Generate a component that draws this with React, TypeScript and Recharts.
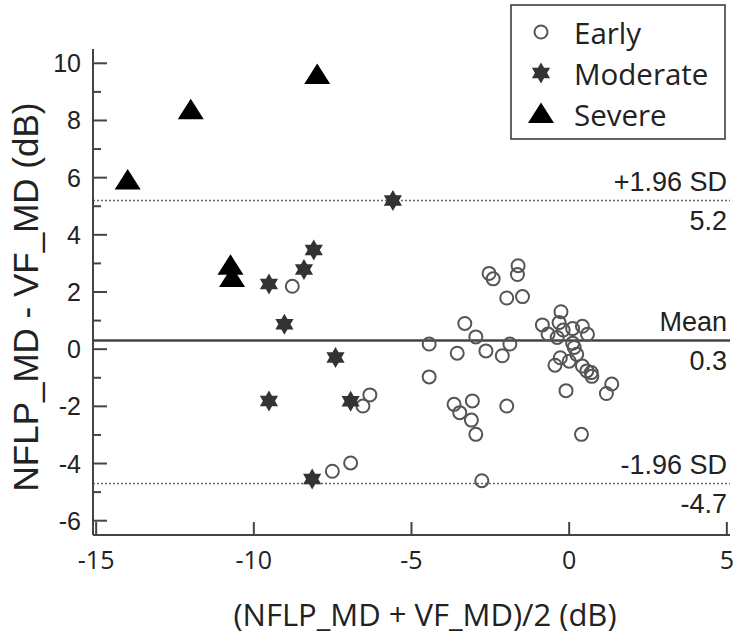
import React from 'react';
import {
  Legend,
  ReferenceLine,
  Scatter,
  ScatterChart,
  XAxis,
  YAxis,
} from 'recharts';

// Bland-Altman: x = mean of the two MDs, y = difference
const earlyMean = [
  -8.78, -6.32, -6.54, -6.93, -7.51, -4.44, -4.44, -3.31, -2.96, -3.55, -2.64, -1.88, -2.12,
  -2.54, -2.41, -1.62, -1.64, -1.98, -1.48, -3.65, -3.47, -3.07, -3.1, -2.96, -1.98, -2.77,
  -0.85, -0.67, -0.26, -0.32, -0.19, 0.11, 0.42, 0.58, -0.38, 0.11, 0.16, 0.24, -0.28, -0.45,
  0.0, 0.42, 0.56, 0.7, 0.72, -0.1, 1.35, 1.18, 0.39,
];
const earlyDiff = [
  2.2, -1.6, -1.99, -3.98, -4.27, 0.18, -0.97, 0.9, 0.43, -0.14, -0.06, 0.18, -0.23,
  2.65, 2.46, 2.92, 2.61, 1.79, 1.84, -1.93, -2.22, -1.81, -2.48, -2.98, -1.99, -4.6,
  0.85, 0.53, 1.31, 0.93, 0.67, 0.72, 0.8, 0.52, 0.41, 0.21, 0.06, -0.18, -0.3, -0.56,
  -0.42, -0.59, -0.76, -0.82, -0.95, -1.45, -1.22, -1.55, -2.98,
];
const moderateMean = [-9.52, -8.41, -8.1, -9.03, -7.41, -9.52, -6.93, -8.15, -5.59];
const moderateDiff = [2.28, 2.79, 3.47, 0.87, -0.29, -1.81, -1.82, -4.54, 5.2];
const severeMean = [-14.0, -12.0, -7.99, -10.74, -10.69];
const severeDiff = [5.9, 8.36, 9.59, 2.92, 2.49];

const MEAN_DIFF = 0.3;
const UPPER_LOA = 5.2;
const LOWER_LOA = -4.7;

const xTicks = [-15, -10, -5, 0, 5];
const yTicks = [-6, -5, -4, -3, -2, -1, 0, 1, 2, 3, 4, 5, 6, 7, 8, 9, 10];

const toPoints = (xs: number[], ys: number[]) => xs.map((x, i) => ({ x, y: ys[i] }));
const earlyData = toPoints(earlyMean, earlyDiff);
const moderateData = toPoints(moderateMean, moderateDiff);
const severeData = toPoints(severeMean, severeDiff);

const AXIS = '#444';
const ARIAL = '"Liberation Sans", Arial, sans-serif';
const SANS = '"Open Sans", sans-serif';
const GAP = 10;

function Circle({ cx, cy }: any) {
  return <circle cx={cx} cy={cy} r={6.5} fill="none" stroke="#555" strokeWidth={2} />;
}

function Star({ cx, cy }: any) {
  const R = 10.5;
  const pts = Array.from({ length: 12 }, (_, i) => {
    const a = ((-90 + i * 30) * Math.PI) / 180;
    const r = i % 2 === 0 ? R : R * 0.577;
    return `${cx + r * Math.cos(a)},${cy + r * Math.sin(a)}`;
  }).join(' ');
  return <polygon points={pts} fill="#333" />;
}

function Triangle({ cx, cy }: any) {
  return (
    <polygon
      points={`${cx},${cy - 11.5} ${cx + 13},${cy + 9} ${cx - 13},${cy + 9}`}
      fill="#000"
    />
  );
}

function YTick({ x, y, payload }: any) {
  const ax = x + GAP;
  const major = payload.value % 2 === 0;
  return (
    <g>
      <line x1={ax} x2={ax + (major ? 14 : 8)} y1={y} y2={y} stroke={AXIS} strokeWidth={2} />
      {major && (
        <text x={x - 2} y={y} textAnchor="end" dominantBaseline="central" fontFamily={ARIAL} fontSize={25} fill="#222">
          {payload.value}
        </text>
      )}
    </g>
  );
}

function XTick({ x, y, payload }: any) {
  const ay = y - GAP;
  return (
    <g>
      <line x1={x} x2={x} y1={ay} y2={ay - 13} stroke={AXIS} strokeWidth={2} />
      <text x={x} y={ay + 24} textAnchor="middle" dominantBaseline="central" fontFamily={SANS} fontSize={25} fill="#222">
        {payload.value}
      </text>
    </g>
  );
}

function LineLabel({ viewBox, top, bottom }: any) {
  const right = viewBox.x + viewBox.width - 3;
  return (
    <g fontFamily={ARIAL} fontSize={27} fill="#222">
      <text x={right} y={viewBox.y - 19} textAnchor="end" dominantBaseline="central">{top}</text>
      <text x={right} y={viewBox.y + 20} textAnchor="end" dominantBaseline="central">{bottom}</text>
    </g>
  );
}

const legendItems = [
  { label: 'Early', Shape: Circle },
  { label: 'Moderate', Shape: Star },
  { label: 'Severe', Shape: Triangle },
];

function LegendBox() {
  return (
    <svg width={216} height={136}>
      <rect x={1} y={1} width={214} height={134} fill="#fff" stroke="#333" strokeWidth={1.5} />
      {legendItems.map(({ label, Shape }, i) => (
        <g key={label}>
          <Shape cx={31} cy={28 + i * 41} />
          <text x={64} y={28 + i * 41} dominantBaseline="central" fontFamily={SANS} fontSize={29.5} fill="#222">
            {label}
          </text>
        </g>
      ))}
    </svg>
  );
}

export default function App() {
  return (
    <div style={{ position: 'absolute', left: 0, top: 0, width: 750, height: 643, background: '#fff' }}>
      <ScatterChart width={750} height={643} margin={{ top: 49, right: 20, bottom: 8, left: 8 }}>
        <XAxis
          type="number"
          dataKey="x"
          domain={[-15.1, 5.1]}
          ticks={xTicks}
          allowDataOverflow
          height={100}
          tickSize={0}
          tickMargin={GAP}
          tickLine={false}
          axisLine={{ stroke: AXIS, strokeWidth: 2 }}
          tick={<XTick />}
        />
        <YAxis
          type="number"
          dataKey="y"
          domain={[-6.5, 10.5]}
          ticks={yTicks}
          allowDataOverflow
          interval={0}
          width={85}
          tickSize={0}
          tickMargin={GAP}
          tickLine={false}
          axisLine={{ stroke: AXIS, strokeWidth: 2 }}
          tick={<YTick />}
        />
        <ReferenceLine y={UPPER_LOA} stroke="#666" strokeWidth={1.5} strokeDasharray="2 2" label={<LineLabel top="+1.96 SD" bottom={String(UPPER_LOA)} />} />
        <ReferenceLine y={MEAN_DIFF} stroke="#444" strokeWidth={2.5} label={<LineLabel top="Mean" bottom={String(MEAN_DIFF)} />} />
        <ReferenceLine y={LOWER_LOA} stroke="#666" strokeWidth={1.5} strokeDasharray="2 2" label={<LineLabel top="-1.96 SD" bottom={String(LOWER_LOA)} />} />
        <Scatter name="Early" data={earlyData} shape={<Circle />} isAnimationActive={false} />
        <Scatter name="Moderate" data={moderateData} shape={<Star />} isAnimationActive={false} />
        <Scatter name="Severe" data={severeData} shape={<Triangle />} isAnimationActive={false} />
        <Legend
          layout="vertical"
          align="center"
          verticalAlign="middle"
          content={() => <LegendBox />}
          wrapperStyle={{ left: 510, top: 4, width: 216, height: 136 }}
        />
        <text x={25} y={297} transform="rotate(-90 25 297)" textAnchor="middle" dominantBaseline="central" fontFamily={ARIAL} fontSize={35} fill="#222">
          NFLP_MD - VF_MD (dB)
        </text>
        <text x={425} y={614} textAnchor="middle" dominantBaseline="central" fontFamily={SANS} fontSize={31} fill="#222">
          (NFLP_MD + VF_MD)/2 (dB)
        </text>
      </ScatterChart>
    </div>
  );
}
